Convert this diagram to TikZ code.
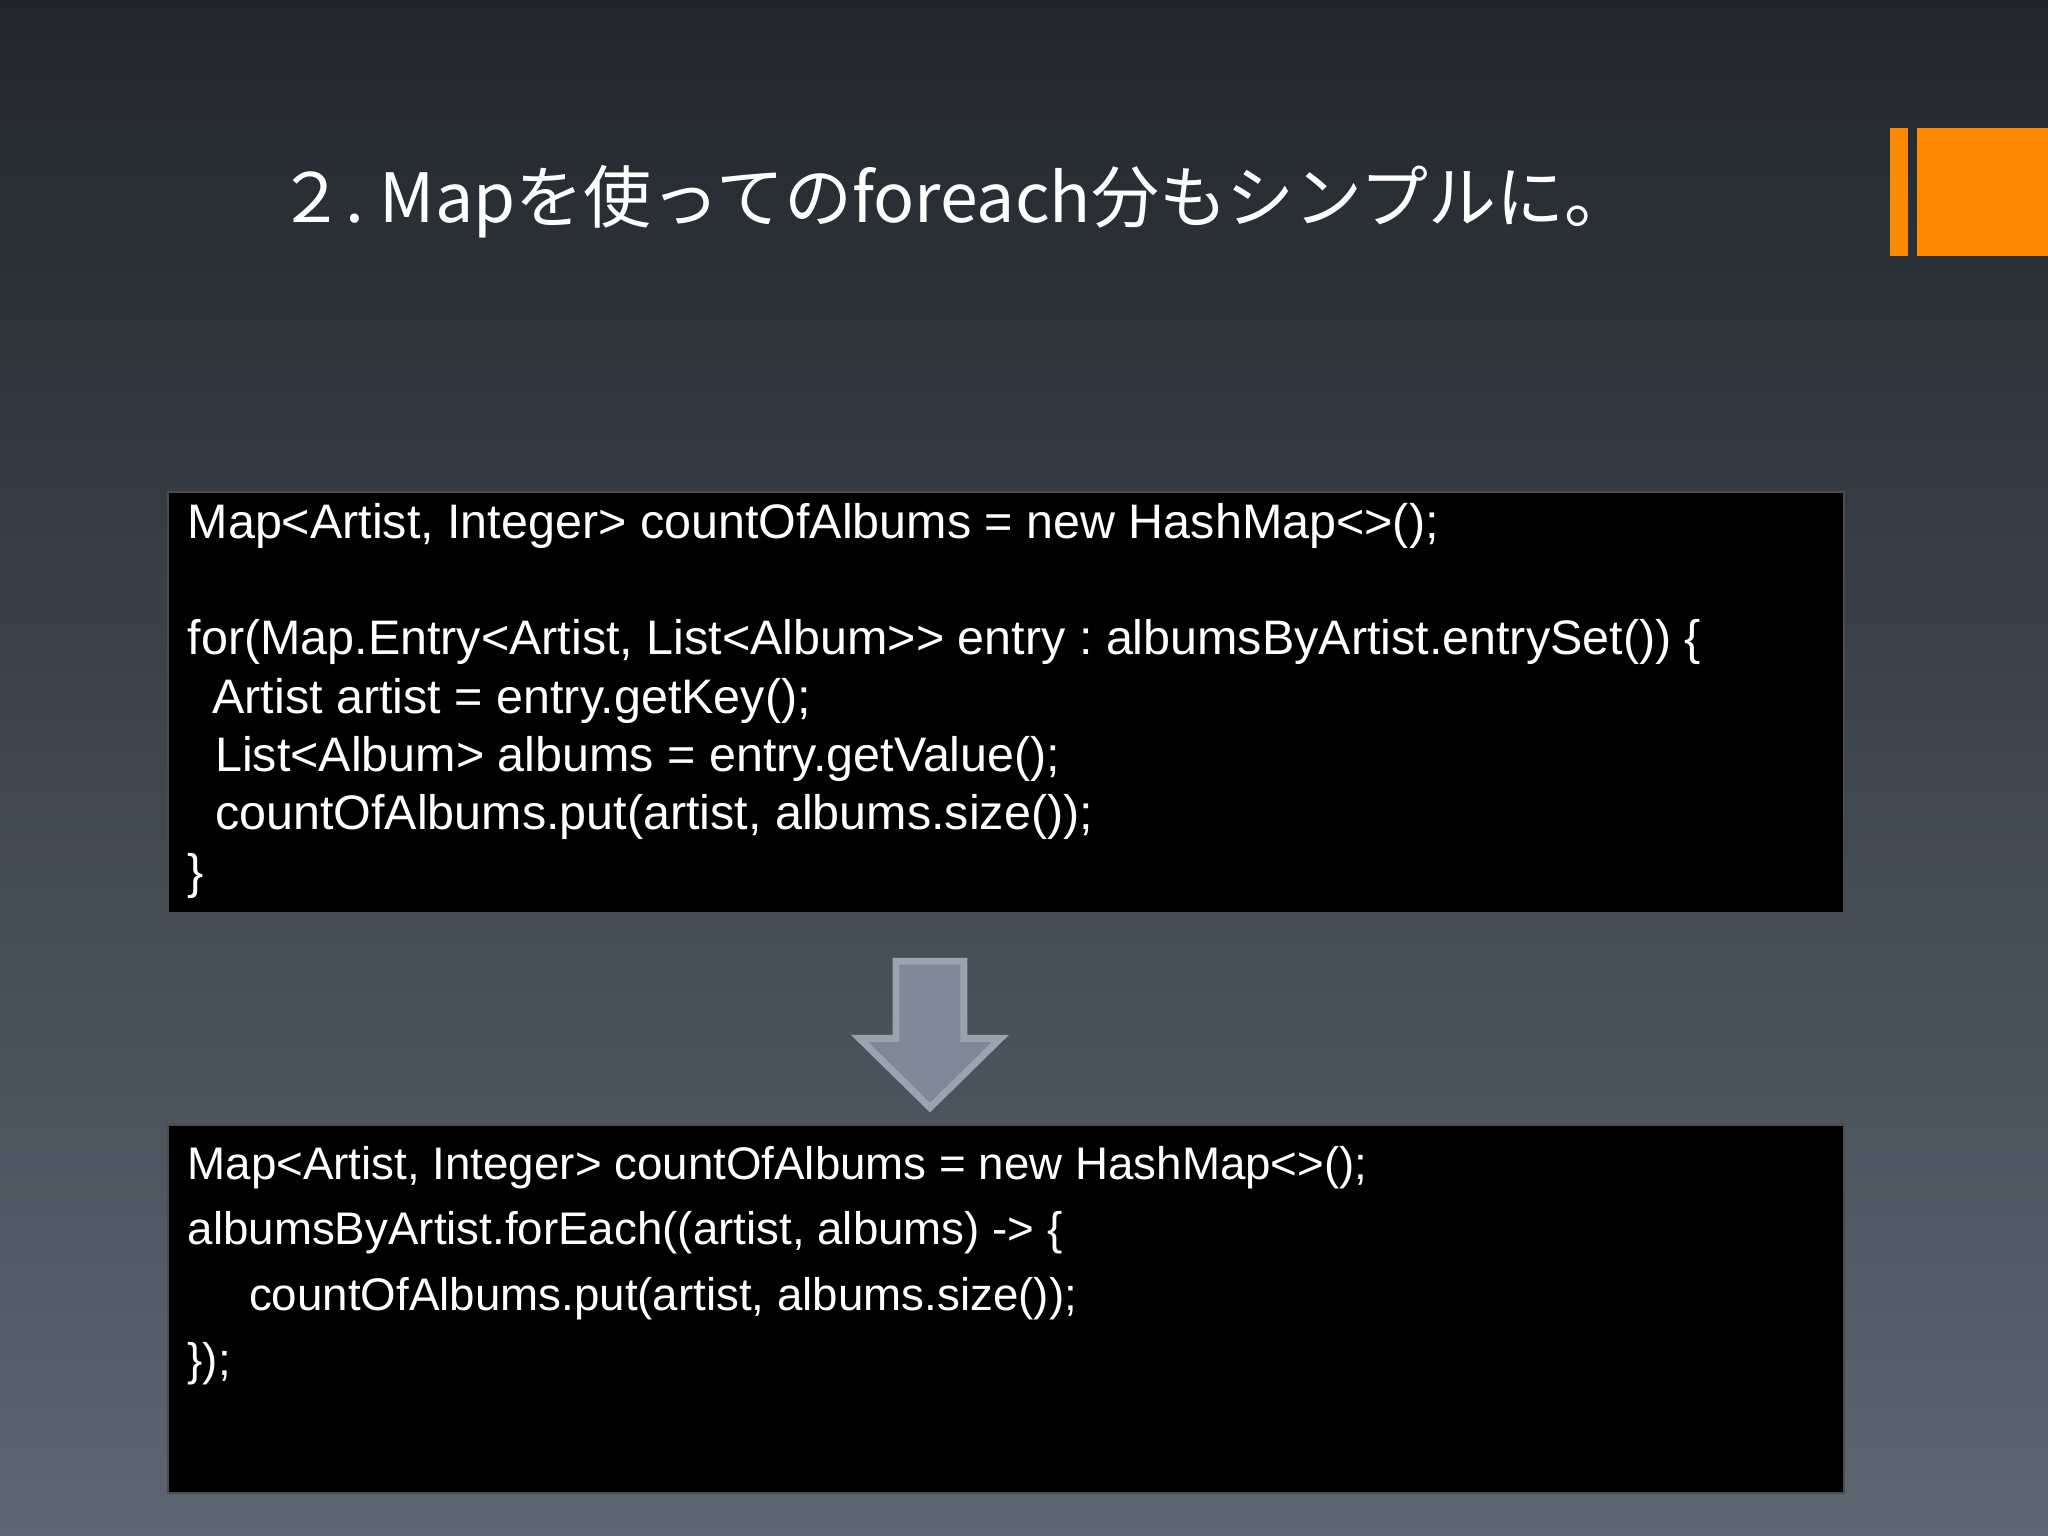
\documentclass[tikz,border=0pt]{standalone}
\usepackage{fontspec}
\setmainfont{Liberation Sans}
\newfontfamily\cjk{Noto Sans CJK JP}
\frenchspacing
\definecolor{bgtop}{HTML}{22262C}
\definecolor{bgbot}{HTML}{5C6772}
\definecolor{orng}{HTML}{FF8A00}
\definecolor{arrowfill}{HTML}{7E8896}
\definecolor{arrowedge}{HTML}{9AA3AE}
\tikzset{
  codebox/.style={fill=black,draw=gray!60!black,line width=0.5pt},
  code/.style={anchor=base west,text=white,font=\fontsize{10.55pt}{12pt}\selectfont,inner sep=0pt},
  codeb/.style={code,font=\fontsize{9.95pt}{12pt}\selectfont},
}
\begin{document}
\begin{tikzpicture}[x=0.01cm,y=-0.01cm]
\shade[top color=bgtop,bottom color=bgbot] (0,0) rectangle (1568,1176);
\useasboundingbox (0,0) rectangle (1568,1176);
\fill[orng] (1447,98) rectangle (1461,196);
\fill[orng] (1468,98) rectangle (1568,196);
\node[anchor=base west,text=white,inner sep=0pt,font=\cjk\fontsize{14.8pt}{16pt}\selectfont] (title) at (212,170) {２. Mapを使ってのforeach分もシンプルに。};
\node[codebox,minimum width=1283*0.01cm,minimum height=322*0.01cm,anchor=north west,inner sep=0pt] (b1) at (128,376) {};
\node[code] (l1) at (143,412) {Map<Artist, Integer> countOfAlbums = new HashMap<>();};
\node[code] (l2) at (143,501) {for(Map.Entry<Artist, List<Album>{>} entry : albumsByArtist.entrySet()) \{};
\node[code] (l3) at (162,546) {Artist artist = entry.getKey();};
\node[code] (l4) at (164,591) {List<Album> albums = entry.getValue();};
\node[code] (l5) at (164,635) {countOfAlbums.put(artist, albums.size());};
\node[code] (l6) at (143,680) {\}};
\draw[fill=arrowfill,draw=arrowedge,line width=1.5pt,line join=miter]
  (686,736) -- (738,736) -- (738,795) -- (766,795) -- (712,848) -- (658,795) -- (686,795) -- cycle;
\node[codebox,minimum width=1283*0.01cm,minimum height=282*0.01cm,anchor=north west,inner sep=0pt] (b2) at (128,860) {};
\node[codeb] (m1) at (143,903) {Map<Artist, Integer> countOfAlbums = new HashMap<>();};
\node[codeb] (m2) at (143,953) {albumsByArtist.forEach((artist, albums) -> \{};
\node[codeb] (m3) at (190,1003) {countOfAlbums.put(artist, albums.size());};
\node[codeb] (m4) at (143,1053) {\});};
\end{tikzpicture}
\end{document}
